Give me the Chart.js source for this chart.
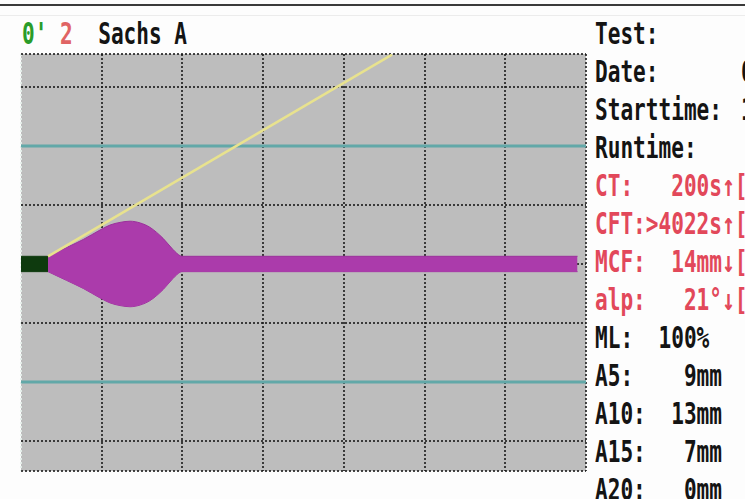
<!DOCTYPE html>
<html>
<head>
<meta charset="utf-8">
<script src="https://cdn.jsdelivr.net/npm/chart.js"></script>
<style>
  html, body { margin: 0; padding: 0; background: #fdfdfd; width: 745px; height: 499px; overflow: hidden; }
  #topline { position: absolute; left: 0; top: 4px; width: 745px; height: 2px; background: #3a3a3a; }
  #topline2 { position: absolute; left: 0; top: 15px; width: 745px; height: 1px; background: #ececec; }
  #plot { position: absolute; left: 19px; top: 52px; width: 569px; height: 421px; }
  .txt {
    position: absolute; white-space: pre; font-family: "DejaVu Sans Mono", monospace;
    font-size: 30px; line-height: 30px; font-weight: bold; color: #141414;
    transform: scaleX(0.703); transform-origin: 0 0;
  }
  .cut { margin-left: 9px; }
</style>
</head>
<body>
<div id="topline"></div>
<div id="topline2"></div>
<div id="plot"><canvas id="chart"></canvas></div>
<div id="texts"></div>
<script>
// time axis in seconds, amplitude in mm
const X_MAX = 4264;
const Y_MIN = -35.1;
const Y_MAX = 35.6;
const timeStep = 600;   // one grid column = 10 min
const ampStep = 10;

// clotting trace (full amplitude, drawn symmetric around 0)
const traceTime = [204, 345, 470, 596, 672, 747, 823, 900, 974, 1072, 1147, 1200, 1215, 4200];
const traceAmp  = [2.6, 5.6, 8.3, 11.5, 13.2, 14.1, 14.5, 13.9, 12.4, 8.7, 4.9, 2.8, 2.6, 2.6];

// clotting time block (before CT)
const ctTime = [0, 204];
const ctAmp = [2.6, 2.6];

// alpha tangent
const alphaTime = [204, 2800];
const alphaAmp = [1.3, 35.5];

// 20 mm reference lines
const refTime = [0, X_MAX];
const refLevels = [20, -20];

// header + result panel
const headerParts = [["0'", '#2a9c2a'], [' ', null], ['2', '#e06464'], ['  Sachs A', '#141414']];
const statLabels = ['Test:', 'Date:', 'Starttime:', 'Runtime:', 'CT:', 'CFT:', 'MCF:', 'alp:', 'ML:', 'A5:', 'A10:', 'A15:', 'A20:'];
const statValues = ['', '      0', ' 1', '', '   200s\u2191[', '>4022s\u2191[', '  14mm\u2193[', '   21\u00b0\u2193[', '  100%', '    9mm', '  13mm', '   7mm', '   0mm'];
const statRed = [false, false, false, false, true, true, true, true, false, false, false, false, false];
const statCut = [false, true, true, false, false, false, false, false, false, false, false, false, false];

function pts(xs, ys, k) {
  return xs.map((x, i) => ({ x: x, y: ys[i] * k }));
}

// texts
const texts = document.getElementById('texts');
const header = document.createElement('div');
header.className = 'txt';
header.style.left = '22px';
header.style.top = (33 - 14.4) + 'px';
header.innerHTML = headerParts.map(p => p[1] ? `<span style="color:${p[1]}">${p[0]}</span>` : p[0]).join('');
texts.appendChild(header);

statLabels.forEach((lab, i) => {
  const d = document.createElement('div');
  d.className = 'txt';
  d.style.left = '595px';
  d.style.top = (33 + 38 * i - 14.4) + 'px';
  d.style.color = statRed[i] ? '#e2485a' : '#141414';
  if (statCut[i]) {
    // value mostly hidden past the window edge
    d.innerHTML = `${lab}<span class="cut">${statValues[i]}</span>`;
  } else {
    d.textContent = lab + statValues[i];
  }
  texts.appendChild(d);
});

const plotBg = {
  id: 'plotBg',
  beforeDraw(chart) {
    const { ctx, chartArea: a } = chart;
    ctx.save();
    ctx.fillStyle = '#bdbdbd';
    ctx.fillRect(a.left, a.top, a.width, a.height);
    ctx.restore();
  }
};

const purple = '#ab3bab';
const gridDark = 'rgba(25,25,25,0.8)';

new Chart(document.getElementById('chart'), {
  type: 'line',
  data: {
    datasets: [
      { data: pts(alphaTime, alphaAmp, 1), borderColor: '#e8e28e', borderWidth: 2.5, fill: false, order: 0 },
      { data: pts(traceTime, traceAmp, 0.5), borderColor: '#9c309c', borderWidth: 1, backgroundColor: purple,
        fill: '+1', cubicInterpolationMode: 'monotone', order: 1 },
      { data: pts(traceTime, traceAmp, -0.5), borderColor: '#9c309c', borderWidth: 1, fill: false,
        cubicInterpolationMode: 'monotone', order: 1 },
      { data: pts(ctTime, ctAmp, 0.5), borderColor: '#0e3a0e', borderWidth: 1, backgroundColor: '#0e3a0e', fill: '+1', order: 2 },
      { data: pts(ctTime, ctAmp, -0.5), borderColor: '#0e3a0e', borderWidth: 1, fill: false, order: 2 },
      { data: pts(refTime, [refLevels[0], refLevels[0]], 1), borderColor: '#62a8a8', borderWidth: 3, fill: false, order: 3 },
      { data: pts(refTime, [refLevels[1], refLevels[1]], 1), borderColor: '#62a8a8', borderWidth: 3, fill: false, order: 3 }
    ]
  },
  options: {
    responsive: true,
    maintainAspectRatio: false,
    animation: false,
    layout: { padding: 2 },
    elements: { point: { radius: 0 }, line: { tension: 0 } },
    plugins: { legend: { display: false }, tooltip: { enabled: false } },
    scales: {
      x: {
        type: 'linear', min: 0, max: X_MAX,
        ticks: { display: false, stepSize: timeStep },
        grid: {
          color: c => c.tick.value === 0 ? 'rgba(230,240,235,0.9)' : gridDark,
          lineWidth: 2, drawTicks: false
        },
        border: { display: false, dash: [2, 2] }
      },
      y: {
        type: 'linear', min: Y_MIN, max: Y_MAX,
        ticks: { display: false, stepSize: ampStep },
        grid: {
          color: c => Math.abs(c.tick.value) === 20 ? 'rgba(0,0,0,0)' : gridDark,
          lineWidth: 2, drawTicks: false
        },
        border: { display: false, dash: [2, 2] }
      }
    }
  },
  plugins: [plotBg]
});
</script>
</body>
</html>
